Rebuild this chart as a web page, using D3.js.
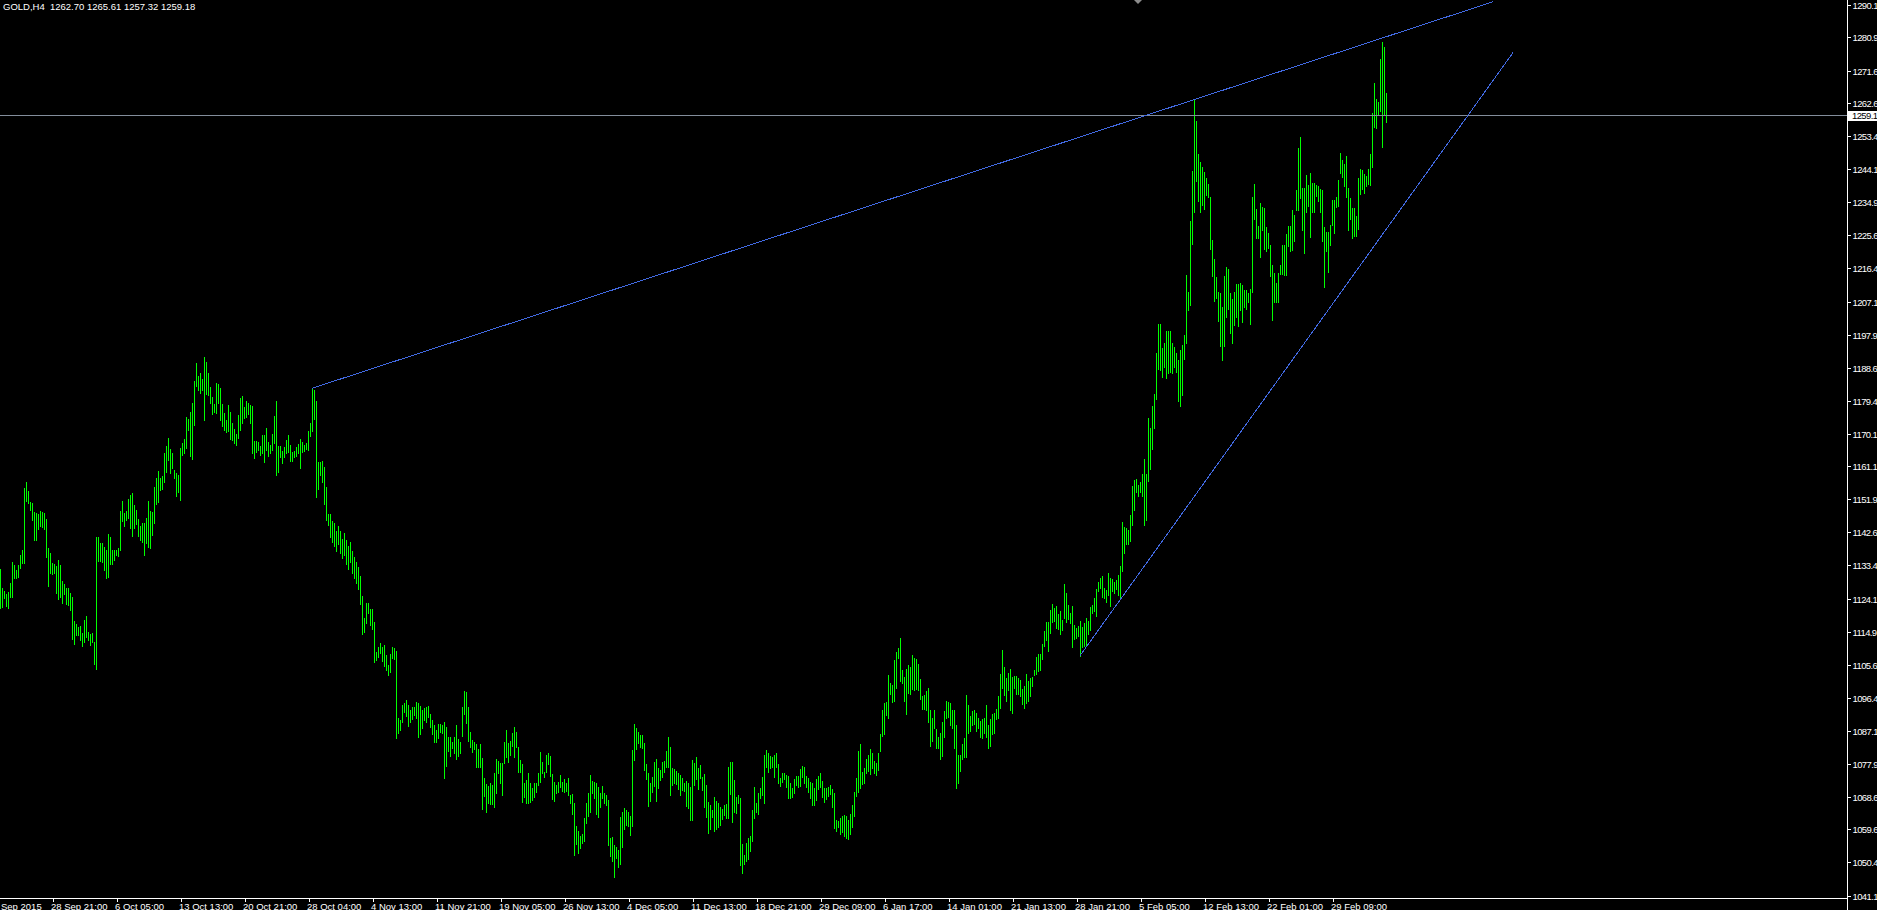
<!DOCTYPE html>
<html>
<head>
<meta charset="utf-8">
<title>GOLD,H4</title>
<script src="https://cdn.jsdelivr.net/npm/d3@7"></script>
<style>
    html, body { margin: 0; padding: 0; background: #000; overflow: hidden; }
    svg { display: block; }
    text { font-family: "Liberation Sans", Arial, sans-serif; font-size: 9.5px; fill: #fff; }
    .price-label { letter-spacing: -0.6px; }
</style>
</head>
<body>
<div id="chart"></div>
<script>
// GOLD H4 bar chart, terminal style

const symbol = "GOLD,H4";
const lastOHLC = [1262.70, 1265.61, 1257.32, 1259.18];
const bidPrice = 1259.18;

// high of every H4 bar, oldest first
const barHigh = [
    // 0
    1132.4, 1127.1, 1126.5, 1125.6, 1126.2, 1128.5, 1134.4, 1133.7, 1132.3, 1133.6,
    1136.4, 1137.8, 1155.1, 1156.8, 1154.3, 1151.3, 1150.9, 1148.5, 1148.3, 1147.9,
    1148.6, 1148.4, 1148.1, 1146.5, 1138.3, 1136.9, 1134.1, 1133.9, 1133.4, 1135.1,
    1133.7, 1129.3, 1128.4, 1127.1, 1127.1, 1125.7, 1124.8, 1118.0, 1117.2, 1116.2,
    1116.6, 1114.6, 1118.3, 1119.4, 1114.9, 1114.4, 1114.6, 1112.2, 1141.6, 1141.4,
    // 50
    1139.7, 1139.9, 1138.6, 1137.8, 1142.3, 1141.4, 1137.8, 1137.7, 1137.8, 1138.3,
    1148.7, 1151.5, 1148.1, 1148.6, 1152.1, 1153.2, 1153.7, 1150.4, 1149.0, 1146.4,
    1144.5, 1145.5, 1145.3, 1146.7, 1151.5, 1148.6, 1148.5, 1155.5, 1158.0, 1160.0,
    1157.9, 1158.6, 1164.8, 1166.9, 1169.0, 1166.0, 1164.8, 1160.2, 1159.3, 1158.7,
    1166.4, 1167.6, 1168.8, 1174.9, 1174.4, 1176.5, 1178.8, 1185.0, 1190.1, 1186.4,
    // 100
    1187.2, 1185.5, 1191.7, 1190.4, 1187.4, 1183.3, 1180.7, 1178.6, 1184.4, 1184.1,
    1183.0, 1178.5, 1176.0, 1174.2, 1178.3, 1176.5, 1173.4, 1171.5, 1170.2, 1175.6,
    1180.2, 1180.9, 1177.9, 1179.5, 1178.8, 1178.3, 1178.1, 1168.3, 1168.3, 1168.0,
    1166.9, 1170.0, 1170.0, 1171.8, 1168.1, 1167.2, 1170.2, 1175.3, 1179.5, 1166.9,
    1166.9, 1165.6, 1166.5, 1168.6, 1170.0, 1167.2, 1165.3, 1165.5, 1166.7, 1167.5,
    // 150
    1168.9, 1167.9, 1167.2, 1167.8, 1171.1, 1173.2, 1183.0, 1182.4, 1179.5, 1162.5,
    1162.3, 1162.8, 1161.1, 1155.5, 1147.9, 1148.0, 1146.0, 1145.5, 1143.0, 1144.5,
    1143.0, 1141.0, 1142.5, 1140.5, 1139.0, 1140.0, 1137.5, 1136.0, 1134.5, 1133.0,
    1130.5, 1125.0, 1118.7, 1122.9, 1122.9, 1121.3, 1121.3, 1117.8, 1109.2, 1110.8,
    1111.9, 1110.8, 1111.3, 1108.5, 1105.7, 1108.8, 1110.8, 1110.4, 1109.7, 1091.0,
    // 200
    1090.2, 1094.4, 1095.0, 1095.9, 1094.5, 1093.0, 1093.9, 1094.1, 1095.5, 1095.2,
    1094.3, 1093.0, 1093.6, 1093.9, 1094.3, 1092.0, 1090.3, 1088.9, 1087.5, 1089.2,
    1089.2, 1088.9, 1089.8, 1088.5, 1085.7, 1085.7, 1084.3, 1085.7, 1088.9, 1084.9,
    1084.2, 1094.1, 1098.5, 1098.2, 1093.9, 1087.1, 1084.7, 1084.3, 1083.6, 1082.2,
    1083.6, 1079.6, 1074.0, 1072.5, 1071.9, 1072.8, 1072.2, 1075.6, 1079.3, 1079.0,
    // 250
    1078.4, 1078.2, 1084.3, 1087.5, 1083.8, 1084.6, 1086.6, 1088.5, 1087.1, 1082.9,
    1079.2, 1078.0, 1072.6, 1073.6, 1075.4, 1072.8, 1071.3, 1072.6, 1072.8, 1075.4,
    1081.3, 1078.7, 1075.9, 1080.6, 1081.0, 1080.3, 1075.3, 1073.1, 1072.2, 1073.1,
    1075.0, 1073.1, 1073.8, 1072.8, 1074.0, 1069.4, 1069.7, 1067.1, 1060.7, 1059.2,
    1057.9, 1058.5, 1062.9, 1067.1, 1070.0, 1075.0, 1073.4, 1073.1, 1072.8, 1071.5,
    // 300
    1070.0, 1071.9, 1070.0, 1069.4, 1068.0, 1057.3, 1057.6, 1055.4, 1054.8, 1054.0,
    1063.2, 1064.7, 1065.7, 1065.2, 1064.5, 1063.5, 1082.0, 1089.2, 1088.0, 1087.1,
    1086.2, 1086.2, 1083.8, 1078.0, 1075.6, 1072.8, 1074.5, 1078.7, 1079.3, 1076.8,
    1076.4, 1078.7, 1079.0, 1081.7, 1085.5, 1082.9, 1076.8, 1076.6, 1076.2, 1075.6,
    1075.0, 1074.0, 1072.8, 1073.4, 1072.8, 1071.7, 1079.2, 1078.4, 1079.9, 1076.8,
    // 350
    1077.8, 1074.5, 1075.3, 1072.2, 1067.5, 1066.6, 1065.2, 1068.7, 1067.8, 1067.2,
    1066.1, 1065.4, 1066.6, 1066.9, 1077.3, 1078.7, 1078.7, 1073.6, 1068.9, 1069.4,
    1068.5, 1055.7, 1052.6, 1055.9, 1057.3, 1057.9, 1065.2, 1071.5, 1067.1, 1070.0,
    1071.3, 1074.3, 1080.6, 1082.0, 1081.0, 1080.3, 1080.1, 1080.6, 1081.0, 1078.0,
    1074.0, 1075.4, 1075.6, 1075.0, 1074.7, 1072.8, 1071.3, 1073.8, 1074.7, 1074.7,
    // 400
    1076.6, 1077.5, 1077.3, 1074.7, 1074.0, 1073.1, 1072.6, 1071.3, 1073.8, 1074.7,
    1075.6, 1073.4, 1071.3, 1071.3, 1071.5, 1072.2, 1071.0, 1069.9, 1062.4, 1062.2,
    1063.0, 1063.5, 1063.8, 1063.5, 1062.5, 1064.0, 1066.6, 1070.2, 1074.2, 1081.8,
    1083.5, 1075.9, 1077.0, 1079.3, 1080.6, 1082.1, 1081.1, 1079.0, 1078.3, 1081.1,
    1086.3, 1093.0, 1095.1, 1095.3, 1102.8, 1100.8, 1100.2, 1107.0, 1109.4, 1110.4,
    // 450
    1113.2, 1104.4, 1102.3, 1104.6, 1105.6, 1105.2, 1108.5, 1107.7, 1107.5, 1105.9,
    1101.8, 1096.9, 1097.3, 1098.4, 1099.4, 1093.2, 1090.9, 1093.2, 1087.8, 1085.7,
    1086.6, 1089.7, 1092.8, 1095.6, 1095.3, 1095.1, 1093.2, 1093.2, 1089.0, 1080.6,
    1080.6, 1083.7, 1085.2, 1097.3, 1094.5, 1091.4, 1092.8, 1093.2, 1092.2, 1090.9,
    1090.1, 1090.7, 1090.9, 1094.5, 1088.9, 1090.7, 1092.0, 1092.2, 1093.5, 1096.9,
    // 500
    1103.1, 1109.8, 1105.2, 1102.1, 1103.5, 1104.6, 1102.3, 1102.5, 1102.5, 1102.1,
    1101.5, 1099.0, 1099.7, 1103.1, 1101.3, 1102.1, 1102.3, 1104.4, 1108.0, 1108.7,
    1108.7, 1111.6, 1115.2, 1117.8, 1117.6, 1121.1, 1122.8, 1121.5, 1122.2, 1119.9,
    1120.9, 1118.3, 1128.2, 1125.9, 1122.5, 1120.1, 1122.2, 1117.0, 1115.9, 1116.6,
    1118.0, 1116.3, 1117.3, 1118.7, 1118.0, 1121.8, 1122.5, 1124.3, 1126.9, 1129.0,
    // 550
    1130.0, 1130.5, 1127.1, 1126.6, 1131.3, 1130.0, 1129.7, 1129.0, 1129.4, 1130.8,
    1133.4, 1145.6, 1144.2, 1143.9, 1143.5, 1147.6, 1155.6, 1157.4, 1157.7, 1156.1,
    1156.9, 1159.2, 1163.2, 1159.2, 1174.8, 1172.0, 1178.0, 1181.5, 1192.8, 1201.0,
    1201.0, 1194.2, 1195.6, 1199.1, 1199.1, 1199.1, 1195.6, 1194.6, 1192.8, 1190.9,
    1193.7, 1195.1, 1197.9, 1214.7, 1210.0, 1229.8, 1243.8, 1263.6, 1257.8, 1248.5,
    // 600
    1246.3, 1244.8, 1243.5, 1241.7, 1240.1, 1236.4, 1224.5, 1219.1, 1214.0, 1210.0,
    1209.6, 1205.8, 1214.4, 1217.0, 1216.3, 1209.7, 1207.9, 1210.0, 1212.2, 1212.2,
    1212.5, 1211.9, 1210.5, 1210.5, 1209.7, 1210.7, 1236.4, 1240.1, 1233.0, 1228.4,
    1234.9, 1233.6, 1233.3, 1228.0, 1226.3, 1223.1, 1217.5, 1215.3, 1212.5, 1215.3,
    1217.5, 1223.1, 1223.1, 1226.1, 1228.4, 1228.4, 1232.7, 1231.4, 1238.4, 1250.1,
    // 650
    1253.3, 1238.9, 1238.9, 1242.6, 1239.8, 1243.1, 1240.3, 1240.5, 1239.8, 1239.4,
    1238.6, 1238.4, 1228.0, 1226.8, 1226.8, 1228.6, 1235.6, 1235.6, 1236.4, 1241.2,
    1248.8, 1246.8, 1245.7, 1247.9, 1238.9, 1236.1, 1233.3, 1233.3, 1231.2, 1241.7,
    1244.2, 1244.0, 1242.9, 1242.3, 1244.2, 1248.5, 1260.0, 1268.2, 1263.8, 1263.1,
    1274.9, 1279.9, 1278.3, 1265.61
];

// low of every H4 bar, oldest first
const barLow = [
    // 0
    1121.6, 1122.0, 1124.3, 1122.2, 1121.7, 1124.6, 1124.8, 1129.9, 1129.9, 1130.2,
    1132.9, 1134.3, 1134.3, 1151.5, 1150.9, 1149.0, 1146.2, 1140.6, 1140.6, 1143.6,
    1144.5, 1144.2, 1143.7, 1136.0, 1127.8, 1131.3, 1131.1, 1131.3, 1125.7, 1124.2,
    1124.8, 1123.0, 1125.6, 1122.8, 1122.5, 1121.1, 1113.0, 1111.6, 1114.1, 1114.1,
    1112.7, 1111.0, 1112.2, 1113.6, 1112.7, 1111.3, 1112.2, 1106.0, 1104.6, 1134.8,
    // 50
    1134.8, 1134.6, 1132.3, 1130.1, 1130.4, 1133.9, 1133.8, 1135.1, 1136.3, 1136.2,
    1137.7, 1145.8, 1144.6, 1146.2, 1146.9, 1143.9, 1141.8, 1143.9, 1145.1, 1141.8,
    1140.5, 1140.2, 1136.4, 1139.7, 1138.8, 1138.5, 1142.0, 1145.5, 1150.7, 1151.3,
    1154.6, 1154.8, 1156.7, 1159.7, 1163.0, 1159.3, 1160.7, 1157.9, 1153.0, 1153.9,
    1151.8, 1164.4, 1164.8, 1166.4, 1171.4, 1164.1, 1163.3, 1172.8, 1183.7, 1182.5,
    // 100
    1181.6, 1182.5, 1174.2, 1181.3, 1181.1, 1178.8, 1175.8, 1176.3, 1176.0, 1178.8,
    1174.2, 1172.5, 1171.4, 1170.9, 1171.2, 1168.8, 1168.6, 1167.6, 1167.2, 1169.0,
    1171.4, 1173.4, 1174.6, 1175.1, 1175.8, 1173.4, 1165.0, 1163.4, 1165.3, 1165.8,
    1164.4, 1164.8, 1162.5, 1165.8, 1164.2, 1164.8, 1165.8, 1167.6, 1158.8, 1159.7,
    1163.7, 1162.2, 1163.9, 1164.8, 1165.3, 1162.8, 1162.8, 1163.7, 1164.1, 1164.8,
    // 150
    1160.8, 1165.3, 1165.6, 1166.0, 1165.8, 1169.7, 1171.2, 1174.3, 1152.5, 1154.9,
    1158.8, 1156.9, 1150.7, 1146.2, 1144.8, 1141.5, 1140.0, 1139.0, 1137.5, 1139.5,
    1137.0, 1135.5, 1136.5, 1134.0, 1132.5, 1134.5, 1131.5, 1130.0, 1128.5, 1127.0,
    1122.7, 1114.5, 1115.0, 1117.3, 1120.1, 1116.9, 1115.7, 1106.4, 1107.1, 1108.0,
    1109.0, 1106.9, 1105.4, 1104.3, 1102.9, 1103.8, 1107.6, 1107.4, 1085.4, 1086.8,
    // 200
    1087.4, 1089.9, 1092.7, 1091.5, 1088.6, 1089.9, 1090.5, 1091.7, 1090.8, 1085.5,
    1086.4, 1088.0, 1090.3, 1089.9, 1091.1, 1088.3, 1086.4, 1084.3, 1084.3, 1085.2,
    1087.1, 1086.6, 1074.0, 1077.5, 1081.8, 1080.3, 1082.4, 1081.0, 1079.4, 1080.3,
    1081.0, 1085.9, 1092.0, 1089.6, 1084.6, 1082.7, 1081.5, 1082.2, 1077.3, 1077.3,
    1077.3, 1065.4, 1069.1, 1064.7, 1067.1, 1066.9, 1066.9, 1066.0, 1069.9, 1075.4,
    // 250
    1072.8, 1069.4, 1078.2, 1080.1, 1078.7, 1080.6, 1083.1, 1080.1, 1082.9, 1075.9,
    1075.9, 1067.5, 1068.9, 1067.2, 1067.1, 1067.5, 1068.0, 1068.9, 1070.3, 1072.2,
    1073.1, 1075.6, 1074.3, 1075.9, 1078.0, 1074.7, 1068.2, 1067.8, 1069.9, 1070.3,
    1071.7, 1070.6, 1070.3, 1070.6, 1069.4, 1067.1, 1064.1, 1052.6, 1055.7, 1053.3,
    1054.5, 1056.1, 1056.4, 1061.5, 1063.5, 1064.7, 1070.0, 1068.5, 1064.1, 1063.3,
    // 300
    1066.1, 1068.5, 1067.2, 1066.6, 1055.4, 1052.2, 1050.8, 1046.6, 1051.7, 1049.2,
    1050.1, 1054.8, 1059.8, 1061.0, 1060.7, 1058.2, 1060.7, 1079.2, 1082.2, 1084.0,
    1082.9, 1082.4, 1076.4, 1073.8, 1066.3, 1067.8, 1070.3, 1071.9, 1067.8, 1071.3,
    1073.6, 1074.3, 1075.9, 1077.3, 1077.1, 1069.4, 1072.2, 1072.6, 1072.5, 1071.0,
    1069.4, 1070.8, 1070.5, 1066.3, 1065.7, 1062.4, 1062.4, 1072.2, 1073.8, 1071.0,
    // 350
    1074.1, 1070.8, 1066.0, 1063.2, 1058.9, 1059.8, 1063.2, 1059.4, 1059.8, 1060.4,
    1061.0, 1062.6, 1063.8, 1062.9, 1062.9, 1069.7, 1061.9, 1064.7, 1064.4, 1067.1,
    1049.8, 1047.7, 1050.1, 1051.0, 1051.4, 1053.8, 1056.4, 1062.9, 1064.5, 1064.1,
    1068.5, 1069.4, 1067.1, 1077.1, 1075.9, 1076.8, 1077.3, 1074.3, 1077.3, 1072.8,
    1071.9, 1073.1, 1073.8, 1071.5, 1068.5, 1068.5, 1068.7, 1069.9, 1072.2, 1071.7,
    // 400
    1071.9, 1074.3, 1072.8, 1071.7, 1070.3, 1068.5, 1066.6, 1066.6, 1068.0, 1071.0,
    1071.7, 1068.7, 1067.5, 1068.2, 1069.1, 1069.7, 1066.1, 1060.1, 1059.4, 1060.4,
    1058.5, 1059.0, 1058.0, 1057.5, 1057.0, 1058.5, 1060.5, 1063.5, 1069.2, 1070.2,
    1071.3, 1072.5, 1072.8, 1075.4, 1076.2, 1075.2, 1077.0, 1075.6, 1074.9, 1076.4,
    1081.6, 1086.0, 1086.3, 1091.8, 1090.9, 1097.6, 1095.3, 1095.6, 1099.2, 1107.7,
    // 450
    1101.3, 1100.8, 1095.6, 1091.9, 1097.9, 1097.6, 1099.0, 1098.7, 1099.0, 1098.7,
    1096.1, 1093.5, 1093.5, 1093.2, 1089.9, 1083.2, 1084.5, 1088.0, 1082.6, 1082.6,
    1079.5, 1080.4, 1085.7, 1090.9, 1091.1, 1088.9, 1088.0, 1082.4, 1071.3, 1072.8,
    1076.2, 1079.3, 1080.1, 1080.1, 1086.8, 1087.3, 1088.9, 1089.1, 1087.3, 1088.0,
    1085.7, 1085.2, 1086.6, 1085.7, 1082.4, 1083.2, 1086.3, 1086.8, 1090.7, 1090.9,
    // 500
    1093.8, 1099.4, 1097.3, 1095.6, 1098.7, 1093.2, 1092.2, 1099.4, 1097.6, 1097.6,
    1096.9, 1094.9, 1093.8, 1095.1, 1095.6, 1096.9, 1099.7, 1102.8, 1103.1, 1103.9,
    1104.4, 1107.3, 1111.1, 1112.7, 1109.6, 1114.7, 1117.8, 1118.0, 1115.9, 1115.8,
    1114.5, 1115.5, 1118.8, 1117.6, 1118.6, 1117.3, 1110.8, 1112.9, 1113.2, 1113.7,
    1108.3, 1110.6, 1111.1, 1111.4, 1114.5, 1115.5, 1120.1, 1120.7, 1119.4, 1126.3,
    // 550
    1127.1, 1124.6, 1124.3, 1123.2, 1125.3, 1122.2, 1126.3, 1125.9, 1126.9, 1125.3,
    1124.3, 1132.1, 1137.0, 1139.6, 1139.4, 1140.4, 1144.7, 1148.9, 1154.1, 1152.8,
    1153.9, 1153.0, 1144.9, 1146.3, 1157.2, 1160.5, 1166.0, 1172.0, 1180.0, 1188.3,
    1188.1, 1186.1, 1189.1, 1185.8, 1187.2, 1187.7, 1187.2, 1188.9, 1187.7, 1179.5,
    1178.0, 1181.0, 1191.1, 1195.8, 1204.9, 1206.3, 1223.3, 1232.4, 1240.8, 1235.4,
    // 600
    1232.4, 1234.2, 1233.0, 1237.0, 1236.4, 1221.9, 1214.4, 1207.5, 1208.2, 1201.9,
    1194.8, 1190.9, 1194.7, 1202.9, 1205.1, 1198.4, 1195.8, 1200.7, 1203.0, 1200.4,
    1204.9, 1201.6, 1205.6, 1205.1, 1207.2, 1201.0, 1210.0, 1230.2, 1224.9, 1224.9,
    1219.8, 1227.1, 1221.8, 1221.5, 1222.1, 1214.4, 1202.1, 1207.2, 1207.2, 1207.2,
    1215.0, 1215.0, 1214.7, 1214.7, 1222.8, 1221.5, 1221.7, 1224.3, 1232.7, 1232.7,
    // 650
    1236.1, 1227.1, 1220.9, 1232.4, 1233.9, 1225.4, 1232.4, 1232.4, 1236.7, 1235.4,
    1232.4, 1224.3, 1211.4, 1221.5, 1215.6, 1223.1, 1228.6, 1226.3, 1233.8, 1233.9,
    1243.1, 1242.0, 1239.4, 1236.4, 1227.1, 1230.2, 1224.9, 1225.6, 1225.6, 1227.4,
    1237.3, 1238.6, 1237.5, 1239.5, 1240.1, 1239.8, 1244.8, 1256.1, 1255.8, 1259.4,
    1260.6, 1250.3, 1259.5, 1257.32
];

// time axis: label text and the bar it sits on
const firstLabel = "Sep 2015";
const timeLabels = ["28 Sep 21:00", "6 Oct 05:00", "13 Oct 13:00", "20 Oct 21:00", "28 Oct 04:00",
    "4 Nov 13:00", "11 Nov 21:00", "19 Nov 05:00", "26 Nov 13:00", "4 Dec 05:00", "11 Dec 13:00",
    "18 Dec 21:00", "29 Dec 09:00", "6 Jan 17:00", "14 Jan 01:00", "21 Jan 13:00", "28 Jan 21:00",
    "5 Feb 05:00", "12 Feb 13:00", "22 Feb 01:00", "29 Feb 09:00"];
const timeLabelBars = [26, 58, 90, 122, 154, 186, 218, 250, 282, 314, 346,
    378, 410, 442, 474, 506, 538, 570, 602, 634, 666];

// price axis labels
const priceTicks = [1290.1, 1280.9, 1271.6, 1262.6, 1253.4, 1244.1, 1234.9, 1225.6, 1216.4, 1207.1,
    1197.9, 1188.6, 1179.4, 1170.1, 1161.1, 1151.9, 1142.6, 1133.4, 1124.1, 1114.9,
    1105.6, 1096.4, 1087.1, 1077.9, 1068.6, 1059.6, 1050.4, 1041.1];

// trend lines as [bar, price] end points
const upperTrend = [[156, 1183.0], [746.5, 1291.0]];
const lowerTrend = [[540, 1108.3], [756.5, 1276.8]];

// position of the chart shift marker (bar)
const shiftMarkerBar = 569;

let width = 1877, height = 910;
let plotRight = 1847, plotBottom = 898;

let svg = d3.select("#chart").append("svg")
    .attr("width", width)
    .attr("height", height);

let x = d3.scaleLinear().domain([0, plotRight / 2]).range([0, plotRight]);
let y = d3.scaleLinear().domain([1040.6, 1291.5]).range([plotBottom, 0]);

main();

function main() {
    svg.append("rect").attr("width", width).attr("height", height).attr("fill", "#000");

    draw_bars();
    draw_bid_line();
    draw_trends();
    draw_axes();
    draw_header();
}

function px(v) {
    return Math.round(v) + 0.5;
}

function draw_bars() {
    let bars = barHigh.map((h, i) => ({i: i, high: h, low: barLow[i]}));

    svg.append("g")
        .attr("class", "bars")
        .selectAll("line")
        .data(bars)
        .enter().append("line")
        .attr("x1", d => px(x(d.i)))
        .attr("x2", d => px(x(d.i)))
        .attr("y1", d => Math.round(y(d.high)))
        .attr("y2", d => Math.round(y(d.low)) + 1)
        .attr("stroke", "#00ff00")
        .attr("stroke-width", 1)
        .attr("shape-rendering", "crispEdges");
}

function draw_bid_line() {
    svg.append("line")
        .attr("x1", 0).attr("x2", plotRight)
        .attr("y1", px(y(bidPrice) - 0.5)).attr("y2", px(y(bidPrice) - 0.5))
        .attr("stroke", "#838d9b")
        .attr("shape-rendering", "crispEdges");
}

function draw_trends() {
    svg.append("g")
        .attr("class", "trends")
        .selectAll("line")
        .data([upperTrend, lowerTrend])
        .enter().append("line")
        .attr("x1", d => x(d[0][0]))
        .attr("y1", d => y(d[0][1]))
        .attr("x2", d => x(d[1][0]))
        .attr("y2", d => y(d[1][1]))
        .attr("stroke", "#4169e1")
        .attr("stroke-width", 1)
        .attr("shape-rendering", "crispEdges");

    // small grey marker at the top edge
    let mx = Math.round(x(shiftMarkerBar));
    svg.append("path")
        .attr("d", `M${mx - 4},0 L${mx + 4},0 L${mx},4 Z`)
        .attr("fill", "#8c8c8c");
}

function draw_axes() {
    // time axis
    let xAxis = d3.axisBottom(x)
        .tickValues(timeLabelBars)
        .tickSize(3)
        .tickSizeOuter(0)
        .tickPadding(2)
        .tickFormat((d, i) => timeLabels[i]);

    let gx = svg.append("g")
        .attr("transform", `translate(0.5,${plotBottom + 0.5})`)
        .call(xAxis);
    gx.select(".domain").remove();
    gx.selectAll(".tick line").attr("stroke", "#fff").attr("shape-rendering", "crispEdges");
    gx.selectAll(".tick text")
        .attr("text-anchor", "start")
        .attr("x", -2)
        .attr("fill", "#fff");
    gx.attr("font-family", null).attr("font-size", null);

    svg.append("text")
        .attr("x", 1)
        .attr("y", plotBottom + 5)
        .attr("dy", "0.71em")
        .text(firstLabel);

    // price axis
    let yAxis = d3.axisRight(y)
        .tickValues(priceTicks)
        .tickSize(3)
        .tickSizeOuter(0)
        .tickPadding(2)
        .tickFormat(d3.format(".1f"));

    let gy = svg.append("g")
        .attr("transform", `translate(${plotRight + 0.5},0)`)
        .call(yAxis);
    gy.select(".domain").remove();
    gy.selectAll(".tick line").attr("stroke", "#fff").attr("shape-rendering", "crispEdges");
    gy.selectAll(".tick text").attr("fill", "#fff").attr("class", "price-label");
    gy.attr("font-family", null).attr("font-size", null);
    gy.selectAll(".tick").attr("transform", d => `translate(0,${px(y(d) - 0.5)})`);

    // frame lines
    svg.append("line")
        .attr("x1", 0).attr("x2", plotRight)
        .attr("y1", plotBottom + 0.5).attr("y2", plotBottom + 0.5)
        .attr("stroke", "#fff").attr("shape-rendering", "crispEdges");
    svg.append("line")
        .attr("x1", plotRight + 0.5).attr("x2", plotRight + 0.5)
        .attr("y1", 0).attr("y2", height)
        .attr("stroke", "#fff").attr("shape-rendering", "crispEdges");

    // bid price label
    let by = Math.round(y(bidPrice));
    svg.append("rect")
        .attr("x", plotRight + 1)
        .attr("y", by - 5)
        .attr("width", 40)
        .attr("height", 10)
        .attr("fill", "#fff");
    svg.append("text")
        .attr("class", "price-label")
        .attr("x", plotRight + 5)
        .attr("y", by)
        .attr("dy", "0.32em")
        .style("fill", "#000")
        .text(d3.format(".2f")(bidPrice));
}

function draw_header() {
    let values = lastOHLC.map(v => d3.format(".2f")(v)).join(" ");
    svg.append("text")
        .attr("x", 3)
        .attr("y", 10)
        .attr("xml:space", "preserve")
        .style("white-space", "pre")
        .text(symbol + "  " + values);
}
</script>
</body>
</html>
